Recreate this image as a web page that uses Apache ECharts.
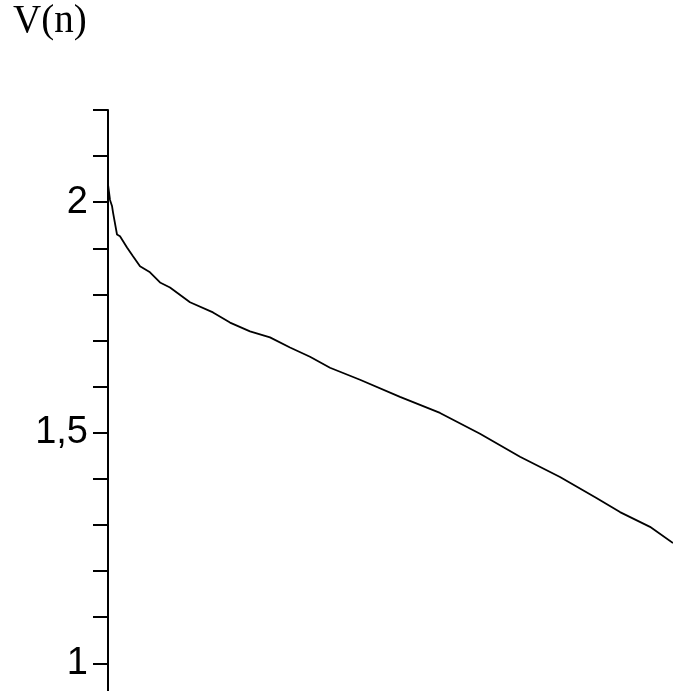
<!DOCTYPE html>
<html>
<head>
<meta charset="utf-8">
<script src="https://cdn.jsdelivr.net/npm/echarts@6/dist/echarts.min.js"></script>
<style>
html,body{margin:0;padding:0;background:#fff;}
#chart{width:673px;height:691px;}
</style>
</head>
<body>
<div id="chart"></div>
<script>
// n values (x) and V(n) values (y)
const nValues = [0, 2, 4, 5, 9, 12, 19, 25, 32, 42, 52, 62, 82, 105, 122, 142, 162, 182, 202, 222, 252, 292, 332, 372, 412, 452, 488, 512, 542, 565];
const vValues = [2.039, 2.005, 1.992, 1.978, 1.930, 1.926, 1.902, 1.883, 1.861, 1.848, 1.826, 1.815, 1.783, 1.761, 1.739, 1.720, 1.707, 1.685, 1.665, 1.641, 1.615, 1.578, 1.543, 1.498, 1.448, 1.404, 1.359, 1.328, 1.296, 1.261];
const yTickValues = [1.0, 1.1, 1.2, 1.3, 1.4, 1.5, 1.6, 1.7, 1.8, 1.9, 2.0, 2.1, 2.2];
const yLabelValues = [1, 1.5, 2];
const yTitle = 'V(n)';

const chart = echarts.init(document.getElementById('chart'));
chart.setOption({
  animation: false,
  backgroundColor: '#ffffff',
  grid: { left: 108, right: 0, top: 110, bottom: 0, containLabel: false },
  graphic: [{
    type: 'text', left: 13, top: 2,
    style: { text: yTitle, font: '39px "Liberation Serif"', fill: '#000' }
  }],
  xAxis: {
    type: 'value', min: 0, max: 565, show: false
  },
  yAxis: {
    type: 'value', min: 0.94, max: 2.2,
    axisLine: { show: true, lineStyle: { color: '#000', width: 2 } },
    splitLine: { show: false },
    axisTick: { show: true, length: 15, inside: false, customValues: yTickValues, lineStyle: { color: '#000', width: 2 } },
    axisLabel: {
      show: true, customValues: yLabelValues, margin: 20,
      color: '#000', fontSize: 38, fontFamily: 'Liberation Sans',
      formatter: v => String(v).replace('.', ',')
    }
  },
  series: [{
    type: 'line',
    data: nValues.map((n, i) => [n, vValues[i]]),
    showSymbol: false,
    lineStyle: { color: '#000', width: 1.8 },
    smooth: false
  }]
});
</script>
</body>
</html>
